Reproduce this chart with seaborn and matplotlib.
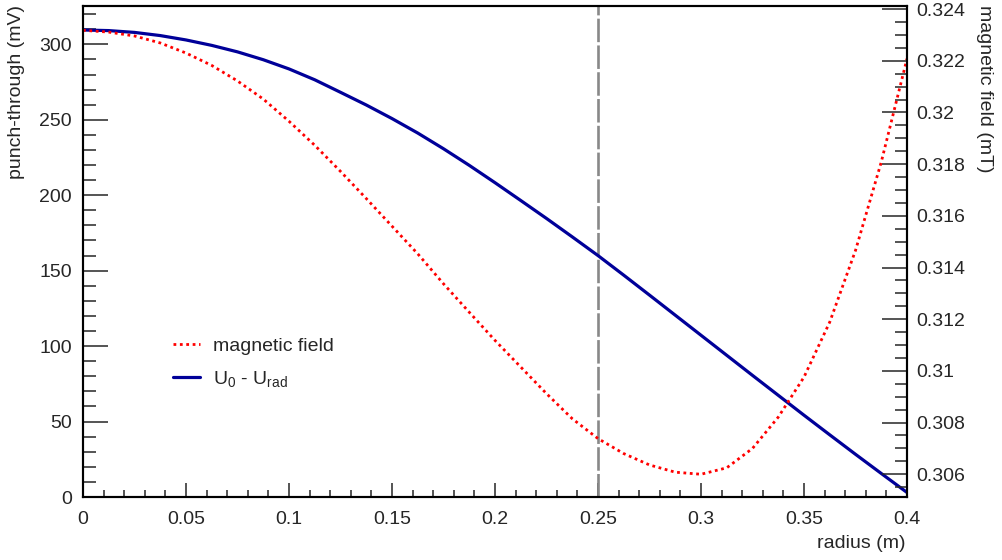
import matplotlib
matplotlib.use("Agg")
import pandas as pd
import matplotlib.pyplot as plt
from matplotlib.ticker import MultipleLocator, FuncFormatter
import seaborn as sns

# values
radius = [0.0, 0.0125, 0.025, 0.0375, 0.05, 0.0625, 0.075, 0.0875, 0.1,
          0.1125, 0.125, 0.1375, 0.15, 0.1625, 0.175, 0.1875, 0.2,
          0.2125, 0.225, 0.2375, 0.25, 0.2625, 0.275, 0.2875, 0.3,
          0.3125, 0.325, 0.3375, 0.35, 0.3625, 0.375, 0.3875, 0.4]
punch_through = [309.5, 309.1, 307.9, 305.8, 302.9, 299.3, 295.0, 289.8, 283.7,
                 276.5, 268.2, 259.8, 250.8, 241.2, 230.8, 219.8, 208.3,
                 196.5, 184.6, 172.4, 160.0, 147.0, 133.8, 120.5, 107.2,
                 93.9, 80.6, 67.4, 54.2, 41.2, 28.3, 15.6, 3.0]
magnetic_field = [0.32318, 0.32311, 0.32296, 0.32269, 0.32230, 0.32182, 0.32122, 0.32052, 0.31966,
                  0.31873, 0.31772, 0.31667, 0.31560, 0.31453, 0.31337, 0.31227, 0.31118,
                  0.31015, 0.30912, 0.30815, 0.30738, 0.30680, 0.30636, 0.30608, 0.30600,
                  0.30625, 0.30700, 0.30821, 0.30976, 0.31189, 0.31466, 0.31808, 0.32208]
cut_radius = 0.25

sns.set_style("ticks")
plt.rcParams['font.family'] = ['Liberation Sans', 'DejaVu Sans']
plt.rcParams['mathtext.fontset'] = 'custom'
plt.rcParams['mathtext.rm'] = 'Liberation Sans'
plt.rcParams['mathtext.it'] = 'Liberation Sans'
plt.rcParams['mathtext.default'] = 'regular'

df = pd.DataFrame({'radius': radius, 'punch': punch_through, 'field': magnetic_field})

fig = plt.figure(figsize=(10.03, 5.6), dpi=100)
ax = fig.add_axes([83 / 1003, 1 - 497 / 560, (907 - 83) / 1003, (497 - 6) / 560])
ax2 = ax.twinx()

ax.axvline(cut_radius, color='#888888', lw=1.9, linestyle=(0, (8.9, 1.25)), zorder=1)
sns.lineplot(data=df, x='radius', y='punch', ax=ax, color='#000099', lw=2.3,
             label='U$_0$ - U$_{rad}$', legend=False)
sns.lineplot(data=df, x='radius', y='field', ax=ax2, color='#ff0000', lw=2.0,
             linestyle=(0, (1, 1.3)), label='magnetic field', legend=False)

ax.set_xlim(0, 0.4)
ax.set_ylim(0, 325.4)
ax2.set_ylim(0.30512, 0.32412)
for a in (ax, ax2):
    a.set_xlabel('')
    a.set_ylabel('')
    for s in a.spines.values():
        s.set_linewidth(1.5)
        s.set_color('black')

fmt = FuncFormatter(lambda v, p: '%g' % round(v, 6))
ax.xaxis.set_major_locator(MultipleLocator(0.05))
ax.xaxis.set_minor_locator(MultipleLocator(0.01))
ax.xaxis.set_major_formatter(fmt)
ax.yaxis.set_major_locator(MultipleLocator(50))
ax.yaxis.set_minor_locator(MultipleLocator(10))
ax2.yaxis.set_major_locator(MultipleLocator(0.002))
ax2.yaxis.set_minor_locator(MultipleLocator(0.0005))
ax2.yaxis.set_major_formatter(fmt)

fs = 14
ax.tick_params(axis='x', which='major', direction='in', length=10, width=1.1,
               labelsize=fs, pad=10, top=False, bottom=True)
ax.tick_params(axis='x', which='minor', direction='in', length=5, width=1.1,
               top=False, bottom=True)
ax.tick_params(axis='y', which='major', direction='in', length=18, width=1.1,
               labelsize=fs, pad=8, left=True, right=False)
ax.tick_params(axis='y', which='minor', direction='in', length=9, width=1.1,
               left=True, right=False)
ax2.tick_params(axis='y', which='major', direction='in', length=18, width=1.1,
                labelsize=fs, pad=7, right=True, left=False)
ax2.tick_params(axis='y', which='minor', direction='in', length=9, width=1.1,
                right=True, left=False)

fig.text(17 / 1003, 1 - 5 / 560, 'punch-through (mV)', rotation=90,
         ha='center', va='top', fontsize=fs)
fig.text(985 / 1003, 1 - 5 / 560, 'magnetic field (mT)', rotation=270,
         ha='center', va='top', fontsize=fs)
fig.text(906 / 1003, 1 - 544 / 560, 'radius (m)', ha='right', va='center',
         fontsize=fs)

h1, l1 = ax.get_legend_handles_labels()
h2, l2 = ax2.get_legend_handles_labels()
ax2.legend(h2 + h1, l2 + l1, loc='upper left', frameon=False, fontsize=fs,
           bbox_to_anchor=(173 / 1003, 1 - 337 / 560), bbox_transform=fig.transFigure,
           borderaxespad=0, borderpad=0, handlelength=1.4, handletextpad=0.67,
           labelspacing=0.72)

fig.savefig('out.png', dpi=100)
